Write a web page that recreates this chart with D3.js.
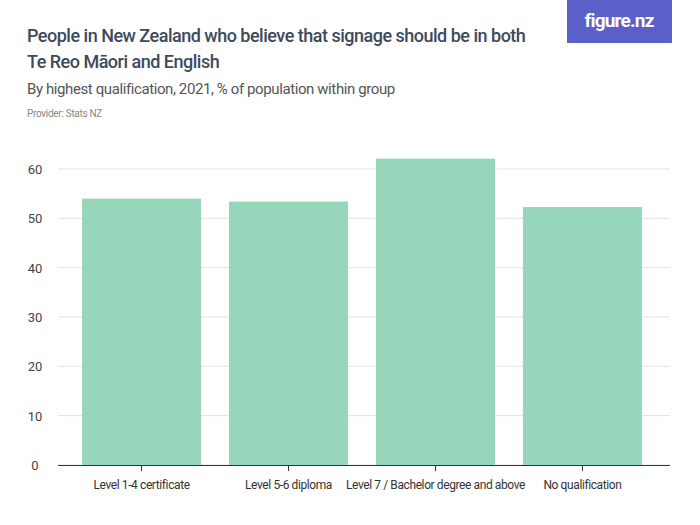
<!DOCTYPE html>
<html><head><meta charset="utf-8">
<script src="https://cdn.jsdelivr.net/npm/d3@7"></script>
<style>body{margin:0;background:#fff}text{font-family:Roboto,"Open Sans",sans-serif}</style>
</head><body><svg id="c" width="700" height="525"></svg>
<script>
var categories = ["Level 1-4 certificate","Level 5-6 diploma","Level 7 / Bachelor degree and above","No qualification"]
var values = [54.0, 53.4, 62.1, 52.3]
var ticks = [0,10,20,30,40,50,60]

var svg = d3.select("#c")
svg.append("text").text("People in New Zealand who believe that signage should be in both").attr("x",27).attr("y",42).attr("font-size",18).attr("font-weight",500).attr("fill","#3d4a5c").attr("letter-spacing",-0.5)
svg.append("text").text("Te Reo Māori and English").attr("x",27).attr("y",68).attr("font-size",18).attr("font-weight",500).attr("fill","#3d4a5c").attr("letter-spacing",-0.5)
svg.append("text").text("By highest qualification, 2021, % of population within group").attr("x",27).attr("y",94).attr("font-size",15).attr("fill","#555").attr("letter-spacing",-0.4)
svg.append("text").text("Provider: Stats NZ").attr("x",27).attr("y",117).attr("font-size",10).attr("fill","#888").attr("letter-spacing",-0.3)
svg.append("rect").attr("x",567).attr("y",0).attr("width",105).attr("height",43).attr("fill","#5a5fc9")
svg.append("text").text("figure.nz").attr("x",619).attr("y",27).attr("text-anchor","middle").attr("font-size",19).attr("font-weight","bold").attr("font-family","DejaVu Serif").attr("letter-spacing",-0.8).attr("fill","#fff")

var y = d3.scaleLinear().domain([0,60]).range([465,169])
var x = d3.scaleBand().domain(categories).range([60,664]).paddingInner(0.19).paddingOuter(0.15)

svg.selectAll(".grid").data(ticks).enter().append("line")
    .attr("x1",58).attr("x2",670).attr("y1",function(d){return y(d)}).attr("y2",function(d){return y(d)})
    .attr("stroke","#e2e2e2")
svg.selectAll(".tl").data(ticks).enter().append("text")
    .text(function(d){return d})
    .attr("x",35).attr("y",function(d){return y(d)+5}).attr("text-anchor","middle")
    .attr("font-size",13).attr("fill","#444")
svg.selectAll(".bar").data(values).enter().append("rect")
    .attr("x",function(d,i){return x(categories[i])}).attr("width",x.bandwidth())
    .attr("y",function(d){return y(d)}).attr("height",function(d){return y(0)-y(d)})
    .attr("fill","#98d6bb")
svg.append("line").attr("x1",58).attr("x2",670).attr("y1",465.5).attr("y2",465.5).attr("stroke","#333")
svg.selectAll(".xt").data(categories).enter().append("line")
    .attr("x1",function(d){return x(d)+x.bandwidth()/2}).attr("x2",function(d){return x(d)+x.bandwidth()/2})
    .attr("y1",465).attr("y2",471).attr("stroke","#333")
svg.selectAll(".xl").data(categories).enter().append("text").text(function(d){return d})
    .attr("x",function(d){return x(d)+x.bandwidth()/2}).attr("y",489).attr("text-anchor","middle")
    .attr("font-size",12).attr("fill","#333").attr("letter-spacing",-0.4)
</script></body></html>
